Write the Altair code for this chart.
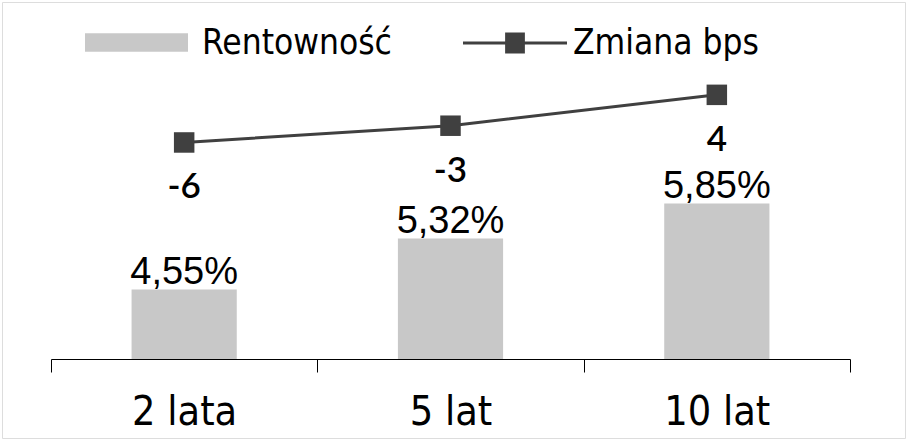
import altair as alt
import pandas as pd

categories = ["2 lata", "5 lat", "10 lat"]
rentownosc = [4.55, 5.32, 5.85]
zmiana_bps = [-6.4, -2.6, 4.4]
series_names = ["Rentowność", "Zmiana bps"]
y_base = 3.5

df = pd.DataFrame({
    "cat": categories,
    "y": rentownosc,
    "bps": zmiana_bps,
})
df["ylab"] = [f"{v:.2f}%".replace(".", ",") for v in rentownosc]
df["bpslab"] = [str(int(round(v))) for v in zmiana_bps]
df["s1"] = series_names[0]
df["s2"] = series_names[1]

AXIS_FONT = "DejaVu Sans Condensed"
BAR_C = "#c8c8c8"
LINE_C = "#404040"

xenc = alt.X(
    "cat:N", sort=categories, title=None,
    scale=alt.Scale(range=[49, 848], paddingInner=0, paddingOuter=0),
    axis=alt.Axis(labelFont=AXIS_FONT, labelFontSize=41, labelColor="black",
                  domainColor="black", tickColor="black", tickSize=13,
                  tickBand="extent", labelPadding=20, offset=-79, grid=False,
                  labelAngle=0, domainWidth=1, tickWidth=1, zindex=1),
)

yscale_bar = alt.Scale(domain=[y_base, 7.5], range=[357, 92.4], zero=False, nice=False)
yscale_line = alt.Scale(domain=[-55.5, 4.5], range=[357, 92.4], zero=False, nice=False)

base = alt.Chart(df)

bars = base.mark_bar(width=alt.RelativeBandSize(0.395)).encode(
    x=xenc,
    y=alt.Y("y:Q", scale=yscale_bar, axis=None),
    y2=alt.Y2(datum=y_base),
    fill=alt.Fill(
        "s1:N",
        scale=alt.Scale(domain=[series_names[0]], range=[BAR_C]),
        legend=alt.Legend(
            orient="none", legendX=83, legendY=-11, title=None,
            symbolType="M-1,-0.18H1V0.18H-1Z", symbolSize=10609,
            symbolStrokeWidth=0,
            labelFont=AXIS_FONT, labelFontSize=35, labelColor="black",
            labelOffset=14, labelLimit=500,
        ),
    ),
)

bar_text = base.mark_text(font="Liberation Sans", fontSize=38, color="black",
                          baseline="alphabetic", dy=-6).encode(
    x=xenc,
    y=alt.Y("y:Q", scale=yscale_bar, axis=None),
    text="ylab:N",
)

line = base.mark_line(color=LINE_C, strokeWidth=3).encode(
    x=xenc,
    y=alt.Y("bps:Q", scale=yscale_line, axis=None),
)

pts = base.mark_square(size=420, opacity=1, filled=True).encode(
    x=xenc,
    y=alt.Y("bps:Q", scale=yscale_line, axis=None),
    color=alt.Color(
        "s2:N",
        scale=alt.Scale(domain=[series_names[1]], range=[LINE_C]),
        legend=alt.Legend(
            orient="none", legendX=461, legendY=-11, title=None,
            symbolType="M-1,-0.03H1V0.03H-1Z M-0.19,-0.2H0.19V0.2H-0.19Z",
            symbolSize=10816, symbolStrokeWidth=0,
            labelFont=AXIS_FONT, labelFontSize=35, labelColor="black",
            labelOffset=6, labelLimit=500,
        ),
    ),
)

line_text = base.mark_text(font="Lato", fontSize=35, fontWeight=600, color="black",
                           baseline="middle", dy=45).encode(
    x=xenc,
    y=alt.Y("bps:Q", scale=yscale_line, axis=None),
    text="bpslab:N",
)

chart = alt.layer(bars, bar_text, line, pts, line_text).resolve_scale(
    y="independent", fill="independent", color="independent"
).properties(
    width=903, height=436,
    padding={"left": 2, "top": 2, "right": 2, "bottom": 2},
    autosize=alt.AutoSizeParams(type="none"),
).configure_view(
    stroke="#888888", strokeWidth=4
).configure(background="white")

chart.save("out.html", embed_options={"renderer": "svg", "actions": False})
